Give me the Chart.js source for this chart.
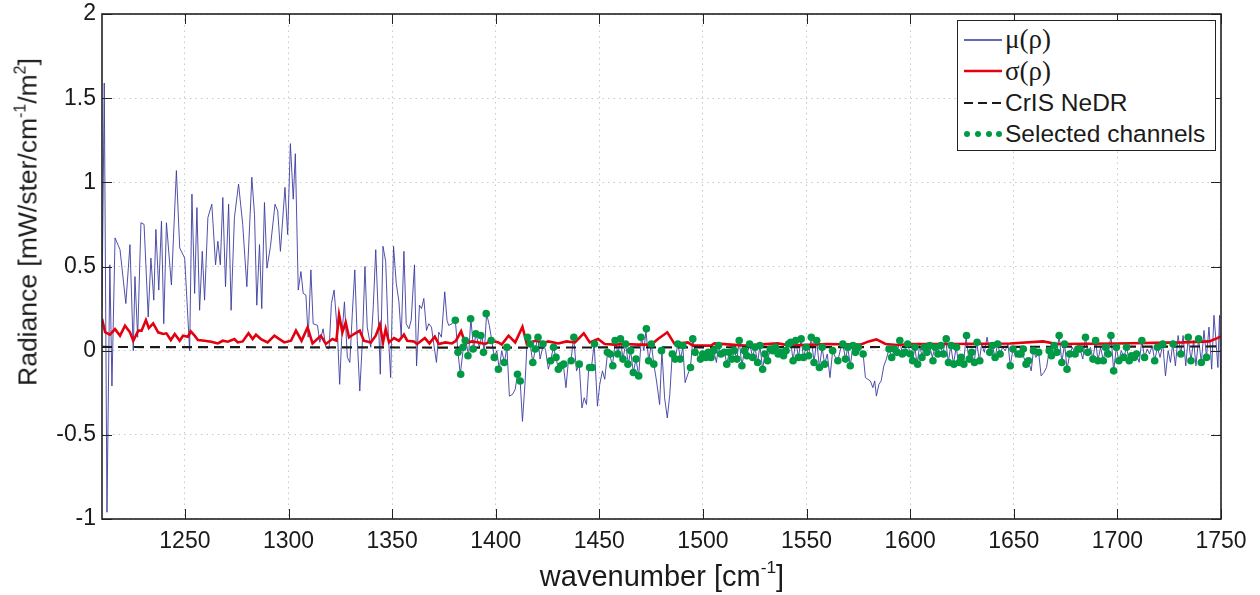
<!DOCTYPE html>
<html>
<head>
<meta charset="utf-8">
<script src="https://cdn.jsdelivr.net/npm/chart.js@4.4.0/dist/chart.umd.min.js"></script>
<style>
  body { margin: 0; background: #fff; }
  #wrap { position: relative; width: 1260px; height: 595px; font-family: "Liberation Sans", Arial, sans-serif; color: #1a1a1a; }
  #ytitle { position: absolute; left: 28px; top: 222px; transform: translate(-50%, -50%) rotate(-90deg); white-space: nowrap; font-size: 26.5px; }
  #xtitle { position: absolute; left: 662px; top: 576px; transform: translate(-50%, -50%); white-space: nowrap; font-size: 29px; }
  sup { font-size: 0.6em; line-height: 0; vertical-align: 0.7em; }
  #legend { position: absolute; left: 957px; top: 20px; width: 259px; height: 131px; box-sizing: border-box;
            border: 1.5px solid #222; background: #fff; padding-top: 3px; }
  .row { display: flex; align-items: center; height: 31.5px; font-size: 24.5px; }
  .row svg { margin-left: 6px; margin-right: 3px; flex: none; }
  .serif { font-family: "Liberation Serif", "Times New Roman", serif; font-size: 27px; }
</style>
</head>
<body>
<div id="wrap">
  <canvas id="c" width="1260" height="595"></canvas>
  <div id="ytitle">Radiance [mW/ster/cm<sup>-1</sup>/m<sup>2</sup>]</div>
  <div id="xtitle">wavenumber [cm<sup>-1</sup>]</div>
  <div id="legend">
    <div class="row"><svg width="38" height="8"><line x1="0" y1="4" x2="38" y2="4" stroke="#34349a" stroke-width="1.6"/></svg><span class="serif">μ(ρ)</span></div>
    <div class="row"><svg width="38" height="8"><line x1="0" y1="4" x2="38" y2="4" stroke="#e3000f" stroke-width="2.6"/></svg><span class="serif">σ(ρ)</span></div>
    <div class="row"><svg width="38" height="8"><line x1="0" y1="4" x2="38" y2="4" stroke="#1a1a1a" stroke-width="2" stroke-dasharray="9,5"/></svg><span>CrIS NeDR</span></div>
    <div class="row"><svg width="38" height="8"><g fill="#009a44"><circle cx="3" cy="4" r="3"/><circle cx="14" cy="4" r="3"/><circle cx="25" cy="4" r="3"/><circle cx="35" cy="4" r="3"/></g></svg><span>Selected channels</span></div>
  </div>
</div>
<script>
// axis ranges
const xRange = [1210, 1750];
const yRange = [-1, 2];

// mu(rho) - mean residual
const muX = [
  1210.0,1211.1,1212.4,1213.8,1214.8,1216.3,1218.7,1221.5,1223.5,1225.1,
  1225.9,1227.2,1228.8,1230.3,1232.3,1233.6,1235.0,1236.0,1237.4,1238.7,
  1239.8,1241.1,1243.5,1245.9,1247.5,1249.9,1252.3,1253.4,1254.7,1255.8,
  1257.1,1258.4,1259.5,1261.1,1263.0,1264.8,1265.9,1267.1,1268.3,1269.6,
  1271.1,1272.3,1273.9,1275.9,1277.9,1279.9,1282.3,1283.6,1284.7,1286.0,
  1287.1,1288.4,1289.6,1291.3,1293.5,1294.8,1296.1,1298.3,1299.6,1300.9,
  1302.3,1303.3,1304.7,
  1306.0,1307.1,1308.4,1309.5,1310.8,1311.9,1314.0,1315.1,1316.7,1318.0,
  1319.6,1320.7,1322.0,1323.6,1324.7,1325.7,1327.0,1328.4,1329.6,1330.8,
  1332.0,1333.2,1334.4,1335.6,1336.9,1338.0,1339.7,1340.9,1342.1,1343.3,
  1344.3,1345.6,1346.9,1348.1,1349.3,1350.7,1352.0,1353.3,1354.4,1355.7,
  1356.8,1358.1,1359.2,1360.8,1361.8,1363.2,1364.2,1365.3,1366.6,1367.7,
  1369.0,1370.1,1371.4,1372.5,
  1373.8,1375.4,1376.5,1377.3,1378.9,1380.5,1381.8,1382.9,1384.5,1385.6,
  1386.9,1388.0,1389.3,1390.4,1392.1,1393.3,1394.5,1395.6,1396.9,1398.1,
  1399.3,1400.5,1401.7,1402.9,1404.2,1405.4,1406.6,1408.1,1409.4,1410.5,
  1411.8,1412.9,1414.2,1415.3,1416.6,1417.9,1419.0,1420.3,1421.4,1423.0,
  1424.1,1425.4,1426.5,1427.8,1429.1,1430.2,1431.5,1432.6,1433.9,1435.0,
  1436.3,1437.6,1439.0,1440.3,1441.6,1442.7,1443.8,1444.9,1446.2,1447.5,
  1449.1,1450.2,1451.5,1452.6,1453.9,1455.0,1456.3,1457.8,1459.0,1460.2,
  1461.4,1462.7,1464.0,1465.1,1466.4,1467.7,1469.0,1470.3,1471.5,1472.5,
  1473.8,1475.1,1476.3,1477.6,1479.1,1480.2,1481.5,1482.8,1484.0,1485.2,
  1486.6,1487.9,1489.2,1490.3,
  1491.4,1492.7,1494.0,1495.1,1496.2,1497.5,1498.8,1499.9,1501.5,1502.6,
  1503.9,1505.2,1506.5,1507.5,1508.7,1510.3,1511.5,1512.7,1514.0,1515.1,
  1516.4,1517.5,1518.8,1520.0,1521.2,1522.5,1524.0,1525.1,1526.4,1527.5,
  1528.8,1529.9,1531.2,1532.5,1533.7,1535.0,1536.3,1537.6,1538.9,1540.1,
  1541.3,1542.4,1543.5,1544.8,1546.1,1547.4,1548.5,1549.8,1551.0,1552.3,
  1553.6,1554.9,1556.2,1557.5,1558.7,1560.0,1561.3,1562.6,1563.9,1565.1,
  1566.4,1567.5,1568.8,1569.9,1571.1,1572.4,1573.6,1574.9,1576.0,1577.3,
  1578.4,1579.6,1580.8,1582.0,1582.9,1583.7,1584.9,1586.0,1587.3,1588.5,
  1589.8,1591.1,1592.4,1593.7,1595.0,1596.2,1597.5,1598.8,1600.1,1601.2,
  1602.3,
  1603.3,1604.6,1605.7,1606.8,1608.1,1609.4,1610.7,1612.0,1613.2,1614.5,
  1615.8,1617.1,1618.4,1619.6,1620.9,1622.2,1623.3,1624.6,1625.7,1627.0,
  1628.3,1629.6,1630.9,1632.1,1633.4,1634.5,1635.8,1637.1,1638.4,1639.7,
  1641.0,1642.2,1643.4,1644.6,1645.9,1647.2,1648.3,1649.6,1650.9,1652.2,
  1653.5,1654.6,1655.9,1657.1,1658.4,1659.5,1660.7,1662.0,1663.2,1664.5,
  1665.8,1667.1,1668.2,1669.5,1670.8,1671.9,1673.2,1674.5,1675.7,1677.0,
  1678.3,1679.6,1680.9,1682.0,1683.3,1684.6,1685.7,1687.0,1688.2,1689.5,
  1690.6,1691.9,1693.2,1694.3,1695.6,1696.9,1698.2,1699.5,1700.7,1701.9,
  1703.1,1704.4,1705.7,1706.8,1708.1,1709.2,1710.5,1711.8,1713.1,1714.4,
  1715.5,1716.8,1718.0,1719.3,1720.6,1721.9,1723.2,1724.5,1725.6,1726.7,
  1728.0,1729.3,1730.6,1731.7,1733.0,1734.2,1735.5,1736.8,1737.9,1739.2,
  1740.5,1741.8,1743.0,1744.2,1745.5,1746.6,1747.5,1748.5,1749.3,1750.0
];
const muY = [
  0.25,1.59,-0.96,0.51,-0.21,0.67,0.60,0.28,0.63,0.00,
  0.44,0.08,0.76,0.75,0.20,0.55,0.30,0.72,0.36,0.77,
  0.16,0.76,0.39,1.07,0.61,0.55,0.00,0.93,0.34,0.85,
  0.24,0.59,0.30,0.79,0.87,0.51,0.65,0.51,0.91,0.38,
  0.87,0.24,0.79,0.99,0.75,0.38,1.03,0.81,0.27,0.63,
  0.25,0.88,0.49,0.62,0.87,0.83,0.59,0.97,0.69,1.23,
  0.90,1.17,0.36,
  0.47,0.34,0.33,0.08,0.48,0.16,0.15,0.05,0.13,0.02,
  0.01,0.28,0.36,0.11,-0.20,0.08,0.29,-0.04,-0.07,0.22,
  0.48,0.06,-0.24,0.04,0.50,0.14,0.02,0.26,0.60,0.22,
  -0.14,0.62,0.53,0.11,-0.16,0.62,0.40,0.29,0.08,0.59,
  0.16,0.13,0.18,0.51,-0.09,0.27,0.25,0.31,0.12,0.16,
  0.14,0.04,-0.07,0.11,
  0.08,0.35,0.18,0.15,0.16,0.18,-0.01,-0.14,0.03,0.06,
  -0.03,0.19,0.01,0.10,0.02,0.09,-0.01,0.22,0.15,0.06,
  -0.04,0.00,-0.11,0.00,-0.07,0.02,-0.27,-0.26,-0.23,-0.14,
  -0.18,-0.42,-0.18,0.09,0.04,-0.07,0.00,0.08,-0.05,0.04,
  0.00,-0.11,-0.06,0.02,-0.04,-0.11,-0.08,-0.08,-0.22,-0.07,
  -0.06,0.08,-0.12,-0.08,-0.34,-0.28,-0.32,-0.10,-0.10,0.04,
  -0.33,-0.20,-0.12,-0.17,-0.02,-0.02,-0.09,0.06,-0.02,0.07,
  -0.05,0.04,-0.08,0.00,-0.13,-0.05,-0.15,0.08,0.00,0.12,
  -0.06,0.04,-0.08,-0.18,-0.32,0.00,-0.28,-0.40,-0.26,-0.02,
  -0.05,0.04,-0.05,0.02,
  -0.19,-0.14,-0.10,0.07,-0.01,-0.03,-0.05,-0.02,-0.04,-0.01,
  -0.04,0.00,-0.07,0.03,-0.02,0.00,-0.08,-0.01,-0.05,0.00,
  -0.05,0.06,-0.09,0.00,-0.03,0.04,-0.04,0.02,-0.07,0.03,
  -0.11,-0.02,-0.06,0.01,0.00,0.02,-0.02,-0.01,-0.03,0.00,
  0.04,0.05,-0.06,0.06,-0.04,0.07,-0.04,0.02,-0.03,0.08,
  -0.07,0.06,-0.10,0.02,-0.08,-0.02,-0.16,0.00,-0.04,-0.06,
  0.01,0.04,-0.05,0.02,-0.09,0.03,-0.01,0.02,-0.01,-0.02,
  -0.16,-0.17,-0.18,-0.22,-0.18,-0.27,-0.20,-0.18,-0.09,-0.05,
  0.01,-0.04,0.01,-0.01,0.06,-0.02,0.00,0.04,-0.02,-0.06,
  0.02,
  -0.08,0.03,-0.03,0.02,-0.01,0.03,-0.04,0.02,-0.02,0.03,
  -0.02,0.07,-0.07,0.03,-0.08,0.02,-0.07,-0.04,-0.08,0.08,
  -0.05,-0.01,-0.07,0.05,-0.06,0.04,-0.01,0.08,-0.01,0.03,
  -0.04,0.04,-0.02,0.02,0.00,0.04,-0.09,0.01,-0.04,-0.02,
  0.01,-0.03,-0.08,-0.06,-0.12,0.00,-0.04,-0.01,-0.15,-0.13,
  -0.10,0.00,-0.02,0.03,-0.01,0.09,-0.07,0.04,-0.11,-0.02,
  0.02,-0.02,0.03,0.01,-0.05,0.08,-0.01,0.02,-0.05,0.06,
  -0.06,0.02,-0.06,0.02,-0.02,0.09,-0.12,0.02,-0.06,0.00,
  -0.04,0.02,-0.06,-0.03,-0.04,-0.02,-0.07,0.06,-0.04,0.01,
  -0.02,0.03,-0.06,0.02,-0.04,0.04,-0.15,0.00,-0.07,0.04,
  -0.09,0.09,-0.02,0.09,-0.09,0.08,-0.06,0.06,-0.09,0.07,
  -0.07,0.12,-0.04,0.14,-0.11,0.21,0.07,-0.10,0.21,-0.30
];

// sigma(rho) - standard deviation
const sigmaX = [
  1210.0,1211.5,1213.8,1216.3,1218.7,1221.1,1223.5,1225.1,1227.5,1229.1,
  1231.2,1232.6,1234.7,1237.1,1239.5,1241.1,1243.2,1245.1,1247.5,1249.1,
  1251.5,1252.8,1254.7,1256.3,1259.5,1262.7,1265.9,1268.3,1270.7,1273.9,
  1275.5,1277.9,1280.7,1282.7,1284.3,1286.7,1289.9,1293.2,1295.6,1298.0,
  1301.2,1303.6,1306.3,1309.2,1311.6,1315.6,1318.0,1321.2,1323.1,1324.4,
  1326.0,1327.6,1329.2,1331.6,1334.4,1336.4,1339.7,1342.1,1344.1,1345.6,
  1346.9,1348.5,1350.9,1353.3,1355.7,1357.3,1360.5,1362.1,1365.8,1368.0,
  1370.6,1372.5,1375.7,1378.9,1380.8,1383.3,1385.3,1388.5,1391.7,1394.9,
  1398.1,1401.3,1402.9,1406.2,1409.4,1412.9,1415.0,1419.0,1423.8,1425.4,
  1430.2,1434.2,1438.2,1442.5,1445.4,1449.4,1452.6,1457.4,1462.2,1468.7,
  1475.1,1478.3,1482.8,1486.3,1492.7,1495.1,1503.9,1505.5,1520.0,1536.0,
  1542.4,1560.0,1576.0,1580.0,1583.7,1588.1,1593.7,1600.1,1607.3,1619.3,
  1648.2,1664.2,1670.6,1699.5,1731.5,1744.3,1748.0,1750.0
];
const sigmaY = [
  0.190,0.110,0.095,0.128,0.089,0.148,0.109,0.059,0.119,0.119,
  0.182,0.134,0.162,0.109,0.099,0.103,0.063,0.099,0.059,0.089,
  0.083,0.115,0.089,0.063,0.059,0.053,0.043,0.059,0.053,0.069,
  0.049,0.055,0.103,0.069,0.095,0.069,0.049,0.089,0.069,0.049,
  0.059,0.119,0.059,0.138,0.043,0.089,0.040,0.069,0.059,0.213,
  0.109,0.168,0.079,0.099,0.119,0.059,0.049,0.089,0.154,0.049,
  0.128,0.049,0.075,0.059,0.095,0.059,0.055,0.040,0.075,0.043,
  0.083,0.040,0.049,0.043,0.059,0.115,0.043,0.055,0.049,0.040,
  0.059,0.049,0.036,0.089,0.049,0.142,0.040,0.059,0.049,0.055,
  0.043,0.055,0.049,0.103,0.049,0.069,0.040,0.036,0.040,0.036,
  0.036,0.069,0.109,0.040,0.049,0.030,0.030,0.043,0.030,0.043,
  0.030,0.040,0.036,0.055,0.067,0.040,0.034,0.040,0.040,0.040,
  0.043,0.055,0.040,0.043,0.049,0.055,0.073,0.085
];

// CrIS noise (NeDR)
const nedrX = [1210, 1300, 1400, 1500, 1600, 1700, 1750];
const nedrY = [0.022, 0.020, 0.018, 0.020, 0.022, 0.024, 0.025];

// selected channels
const selX = [
  1380.5,1381.8,1383.1,1384.2,1385.3,1386.6,1387.9,1389.1,1390.4,1392.8,
  1394.1,1395.4,1397.8,1399.3,1401.3,1404.1,1405.4,1410.5,1411.8,1415.4,
  1416.7,1417.9,1419.1,1420.4,1422.8,1426.5,1427.9,1429.1,1430.2,1431.5,
  1432.8,1436.4,1437.7,1440.3,1445.3,1446.5,1447.7,1453.9,1455.2,1456.5,
  1457.6,1458.9,1460.2,1461.4,1462.7,1463.8,1465.1,1466.4,1467.7,1469.0,
  1470.1,1472.7,1473.8,1475.1,1476.3,1480.0,1485.2,1486.6,1487.9,1489.0,
  1490.3,1494.0,1495.1,1496.2,1498.8,1499.9,1501.5,1502.6,1503.9,1505.2,
  1507.5,1508.7,1510.3,1511.5,1512.7,1514.0,1515.1,1516.4,1517.5,1518.8,
  1520.0,1521.2,1522.5,1524.0,1525.1,1526.4,1527.5,1528.8,1529.9,1531.2,
  1532.5,1533.7,1535.0,1536.3,1537.6,1538.9,1540.1,1541.3,1542.4,1543.5,
  1544.8,1546.1,1547.4,1548.5,1549.8,1551.0,1552.3,1553.6,1554.9,1556.2,
  1557.5,1558.7,1562.6,1565.1,1567.5,1568.8,1569.9,1571.1,1572.4,1573.6,
  1574.9,1577.3,1589.8,1591.1,1592.4,1593.7,1595.0,1596.2,1597.5,1598.8,
  1600.1,1601.2,1602.3,1603.6,1605.7,1606.8,1608.1,1609.4,1611.0,1612.1,
  1613.4,1614.8,1616.1,1617.4,1618.5,1619.8,1621.1,1622.4,1623.7,1624.6,
  1625.9,1627.2,1628.5,1629.7,1631.0,1632.3,1633.6,1638.4,1639.7,1641.0,
  1642.2,1643.4,1648.3,1649.6,1652.2,1653.5,1654.6,1655.9,1657.1,1659.5,
  1662.0,1667.1,1668.2,1669.5,1670.8,1671.9,1673.2,1674.5,1675.7,1677.0,
  1679.6,1680.9,1682.0,1684.6,1685.7,1688.2,1689.5,1690.6,1693.2,1694.3,
  1695.6,1696.9,1698.2,1699.5,1700.7,1703.1,1704.4,1705.7,1706.8,1708.1,
  1709.2,1711.8,1713.1,1718.0,1719.3,1721.9,1726.9,1730.6,1734.2,1735.5,
  1739.2,1740.5,1743.0
];
const selY = [
  0.18,-0.01,-0.14,0.02,0.06,-0.03,0.19,0.01,0.10,0.09,
  -0.01,0.22,0.06,-0.04,-0.11,-0.07,0.02,-0.14,-0.18,0.08,
  0.04,-0.07,0.01,0.08,0.04,-0.06,0.02,-0.04,-0.11,-0.09,
  -0.08,-0.06,0.08,-0.08,-0.10,-0.10,0.04,-0.01,-0.02,-0.09,
  0.06,-0.02,0.07,-0.05,0.04,-0.08,0.00,-0.13,-0.05,-0.15,
  0.08,0.13,-0.06,0.04,-0.08,0.00,-0.02,-0.05,0.04,-0.05,
  0.03,-0.10,0.07,-0.01,-0.05,-0.02,-0.04,-0.01,-0.04,0.00,
  0.03,-0.02,-0.01,-0.08,-0.01,-0.05,0.00,-0.05,0.06,-0.09,
  0.00,-0.03,0.04,-0.04,0.02,-0.07,0.03,-0.11,-0.02,-0.06,
  0.01,0.00,0.02,-0.02,-0.01,-0.03,0.00,0.04,0.05,-0.06,
  0.06,-0.04,0.07,-0.04,0.02,-0.03,0.08,-0.07,0.06,-0.10,
  0.02,-0.08,0.00,-0.06,0.04,-0.05,0.02,-0.09,0.03,-0.01,
  0.02,-0.02,0.01,-0.04,0.01,-0.01,0.06,-0.02,-0.01,0.04,
  -0.02,-0.06,0.02,-0.08,-0.04,0.02,-0.01,0.03,-0.06,0.02,
  -0.02,0.03,-0.02,0.07,-0.07,0.03,-0.08,0.02,-0.07,-0.04,
  -0.08,0.09,-0.05,-0.01,-0.07,0.05,-0.06,-0.01,0.03,-0.04,
  0.04,-0.02,-0.09,0.01,-0.02,-0.02,0.01,-0.08,-0.06,0.00,
  -0.01,0.00,-0.03,0.03,-0.01,0.09,-0.07,0.04,-0.11,-0.02,
  -0.02,0.01,0.01,0.08,-0.01,-0.05,0.06,-0.06,-0.06,0.02,
  -0.02,0.09,-0.12,0.02,-0.06,-0.04,0.02,-0.06,-0.03,-0.04,
  -0.02,0.06,-0.04,-0.06,0.02,0.04,0.04,-0.02,0.08,-0.06,
  0.07,-0.07,-0.04
];

function pts(xs, ys) {
    return xs.map((x, i) => ({ x: x, y: ys[i] }));
}

// box round the plot with matlab style inward ticks
const frame = {
    id: 'frame',
    afterDraw(chart) {
        const { ctx, chartArea: a, scales: { x, y } } = chart;
        ctx.save();
        ctx.strokeStyle = '#222';
        ctx.lineWidth = 1;
        ctx.beginPath();
        x.ticks.forEach(t => {
            const px = Math.round(x.getPixelForValue(t.value)) + 0.5;
            ctx.moveTo(px, a.bottom); ctx.lineTo(px, a.bottom - 10);
            ctx.moveTo(px, a.top); ctx.lineTo(px, a.top + 10);
        });
        y.ticks.forEach(t => {
            const py = Math.round(y.getPixelForValue(t.value)) + 0.5;
            ctx.moveTo(a.left, py); ctx.lineTo(a.left + 10, py);
            ctx.moveTo(a.right, py); ctx.lineTo(a.right - 10, py);
        });
        ctx.stroke();
        ctx.lineWidth = 1.6;
        ctx.strokeRect(a.left, a.top, a.right - a.left, a.bottom - a.top);
        ctx.restore();
    }
};

const tickFont = { family: '"Liberation Sans", Arial, sans-serif', size: 23 };

new Chart(document.getElementById('c'), {
    type: 'scatter',
    data: {
        datasets: [
            { label: 'Selected channels', data: pts(selX, selY), showLine: false,
              pointRadius: 3.8, pointBackgroundColor: '#009a44', pointBorderWidth: 0 },
            { label: 'CrIS NeDR', data: pts(nedrX, nedrY), showLine: true, borderColor: '#1a1a1a',
              borderWidth: 2.2, borderDash: [10, 6], pointRadius: 0 },
            { label: 'σ(ρ)', data: pts(sigmaX, sigmaY), showLine: true, borderColor: '#e3000f',
              borderWidth: 2.6, pointRadius: 0 },
            { label: 'μ(ρ)', data: pts(muX, muY), showLine: true, borderColor: '#3c3ca0',
              borderWidth: 0.9, pointRadius: 0 }
        ]
    },
    options: {
        responsive: false,
        animation: false,
        events: [],
        layout: { padding: { top: 14, right: 39, left: 0, bottom: 0 } },
        plugins: { legend: { display: false }, tooltip: { enabled: false } },
        scales: {
            x: {
                type: 'linear', min: xRange[0], max: xRange[1],
                afterFit(s) { s.height = 76; s.paddingLeft = 0; s.paddingRight = 0; },
                ticks: { stepSize: 50, includeBounds: false, padding: 9, color: '#1a1a1a', font: tickFont,
                         maxRotation: 0, autoSkip: false, callback: v => String(v) },
                grid: { color: '#c8c8c8', drawTicks: false },
                border: { display: false, dash: [1.5, 4] }
            },
            y: {
                min: yRange[0], max: yRange[1],
                afterFit(s) { s.width = 102; s.paddingTop = 0; s.paddingBottom = 0; },
                ticks: { stepSize: 0.5, padding: 6, color: '#1a1a1a', font: tickFont,
                         autoSkip: false, callback: v => String(v) },
                grid: { color: '#c8c8c8', drawTicks: false },
                border: { display: false, dash: [1.5, 4] }
            }
        }
    },
    plugins: [frame]
});
</script>
</body>
</html>
